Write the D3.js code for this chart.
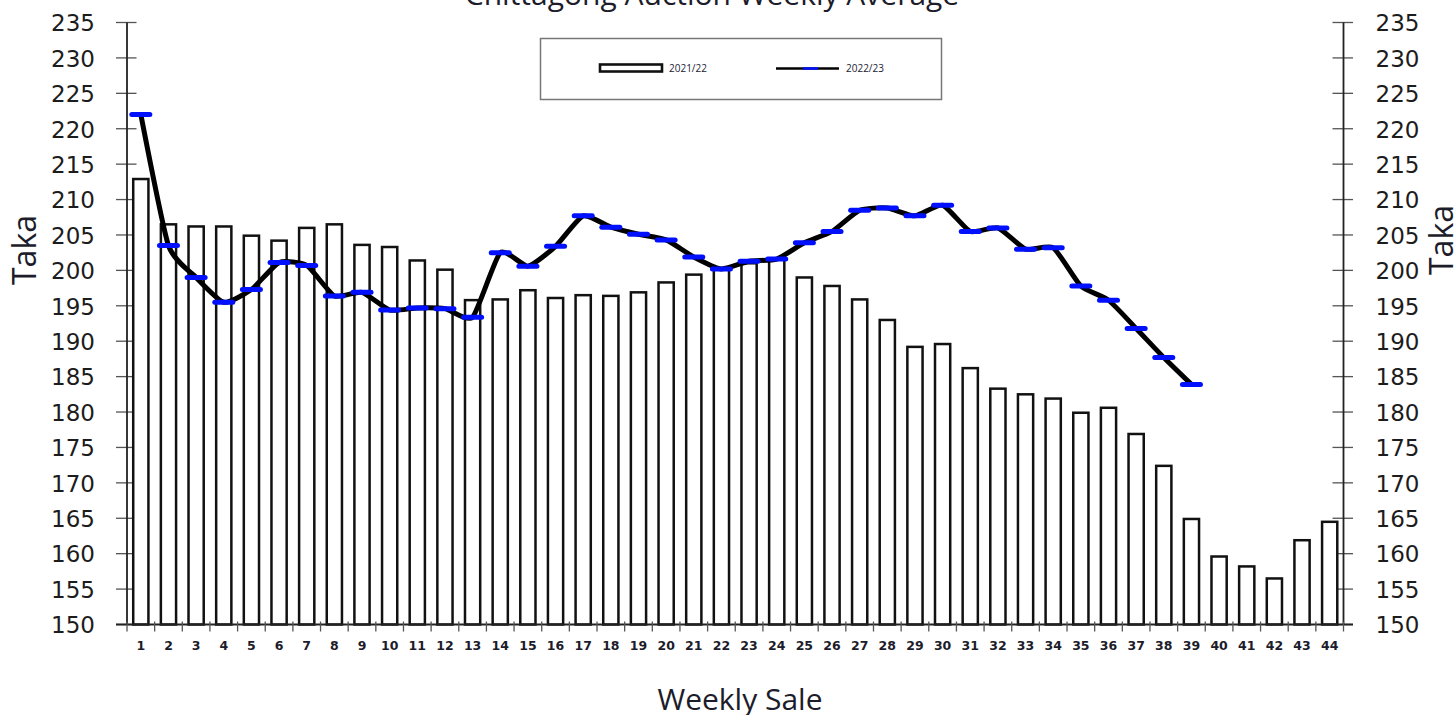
<!DOCTYPE html>
<html>
  <head>
    <meta charset="utf-8">
    <title>Chittagong Auction Weekly Average</title>
    <script src="https://cdn.jsdelivr.net/npm/d3@7"></script>
    <style>
      body { margin: 0; background: #fff; }
      #chart { display: block; }
      .yTick text { font-family: "DejaVu Sans", sans-serif; font-size: 23px; fill: #1c1c1c; }
      .xTick text { font-family: "DejaVu Sans", sans-serif; font-size: 12.5px; font-weight: bold; fill: #1c1c2a; }
      .axisTitle { font-family: "Open Sans", sans-serif; fill: #1c1c2a; }
      .legendText { font-family: "Open Sans", sans-serif; font-size: 10px; fill: #223; }
    </style>
  </head>

  <body>
    <svg id="chart" width="1456" height="715"></svg>

    <script>
      // data
      weeks = d3.range(1, 45).map(String);
      season2122 = [
        212.9, 206.5, 206.2, 206.2, 204.9, 204.2, 206.0, 206.5, 203.6, 203.3,
        201.4, 200.1, 195.8, 195.9, 197.2, 196.1, 196.5, 196.4, 196.9, 198.3,
        199.4, 200.2, 201.0, 201.5, 199.0, 197.8, 195.9, 193.0, 189.2, 189.6,
        186.2, 183.3, 182.5, 181.9, 179.9, 180.6, 176.9, 172.4, 164.9, 159.6,
        158.2, 156.5, 161.9, 164.5
      ];
      season2223 = [
        222.0, 203.5, 199.0, 195.5, 197.3, 201.1, 200.7, 196.4, 196.9, 194.4,
        194.7, 194.6, 193.4, 202.5, 200.6, 203.4, 207.7, 206.1, 205.1, 204.3,
        201.9, 200.2, 201.3, 201.6, 203.9, 205.5, 208.5, 208.8, 207.7, 209.2,
        205.5, 206.0, 203.0, 203.2, 197.8, 195.8, 191.8, 187.7, 183.9
      ];
      yTicks = d3.range(150, 236, 5);
      seriesNames = ["2021/22", "2022/23"];

      // page elements
      svg = d3.select("#chart");
      margin = { top: 22.5, right: 112.5, bottom: 90.5, left: 127 };
      width = 1456 - margin.left - margin.right;
      height = 715 - margin.top - margin.bottom;
      plot = svg.append("g")
        .attr("transform", "translate(" + margin.left + "," + margin.top + ")");

      // scales
      x = d3.scaleBand()
        .domain(weeks)
        .range([0, width])
        .paddingInner(0.45)
        .paddingOuter(0.225);
      y = d3.scaleLinear()
        .domain([150, 235])
        .range([height, 0]);

      // axes
      leftAxis = d3.axisLeft(y).tickValues(yTicks).tickSize(0).tickPadding(32);
      rightAxis = d3.axisRight(y).tickValues(yTicks).tickSize(0).tickPadding(32);
      plot.append("g").attr("class", "yTick").call(leftAxis);
      plot.append("g").attr("class", "yTick")
        .attr("transform", "translate(" + width + ",0)")
        .call(rightAxis);
      plot.selectAll(".yTick .domain").remove();
      plot.selectAll(".yTick text").attr("dy", "0.36em");

      // tick marks crossing both value axes
      [0, width].forEach(function(xPos) {
        plot.append("g")
          .selectAll("line")
          .data(yTicks)
          .join("line")
            .attr("x1", xPos - 11)
            .attr("x2", xPos + 9.5)
            .attr("y1", function(d) { return y(d); })
            .attr("y2", function(d) { return y(d); })
            .attr("stroke", "#555")
            .attr("stroke-width", 1.3);
        plot.append("line")
          .attr("x1", xPos).attr("x2", xPos)
          .attr("y1", 0).attr("y2", height)
          .attr("stroke", "#222")
          .attr("stroke-width", 1.8);
      });

      // bars
      plot.append("g")
        .selectAll("rect")
        .data(season2122)
        .join("rect")
          .attr("x", function(d, i) { return x(weeks[i]); })
          .attr("y", function(d) { return y(d); })
          .attr("width", x.bandwidth())
          .attr("height", function(d) { return height - y(d); })
          .attr("fill", "#fff")
          .attr("stroke", "#111")
          .attr("stroke-width", 2.5);

      // category axis
      xAxis = d3.axisBottom(x).tickSize(0).tickPadding(17);
      xg = plot.append("g").attr("class", "xTick")
        .attr("transform", "translate(0," + height + ")")
        .call(xAxis);
      xg.select(".domain").remove();
      xg.append("line")
        .attr("x1", -11).attr("x2", width + 9.5)
        .attr("stroke", "#222").attr("stroke-width", 1.8);
      xg.selectAll(".boundary")
        .data(d3.range(weeks.length + 1))
        .join("line")
          .attr("class", "boundary")
          .attr("x1", function(i) { return i * x.step(); })
          .attr("x2", function(i) { return i * x.step(); })
          .attr("y1", -3)
          .attr("y2", 7)
          .attr("stroke", "#555")
          .attr("stroke-width", 1.3);

      // line series
      cx = function(i) { return x(weeks[i]) + x.bandwidth() / 2; };
      line = d3.line()
        .x(function(d, i) { return cx(i); })
        .y(function(d) { return y(d); })
        .curve(d3.curveCardinal.tension(0.45));
      plot.append("path")
        .datum(season2223)
        .attr("d", line)
        .attr("fill", "none")
        .attr("stroke", "#000")
        .attr("stroke-width", 5)
        .attr("stroke-linejoin", "round");
      plot.append("g")
        .selectAll("line")
        .data(season2223)
        .join("line")
          .attr("x1", function(d, i) { return cx(i) - 9; })
          .attr("x2", function(d, i) { return cx(i) + 9; })
          .attr("y1", function(d) { return y(d); })
          .attr("y2", function(d) { return y(d); })
          .attr("stroke", "#0010ff")
          .attr("stroke-width", 5)
          .attr("stroke-linecap", "round");

      // titles
      svg.append("text")
        .attr("class", "axisTitle")
        .attr("x", 712).attr("y", 5)
        .attr("text-anchor", "middle")
        .style("font-size", "30px")
        .text("Chittagong Auction Weekly Average");
      svg.append("text")
        .attr("class", "axisTitle")
        .attr("x", 740).attr("y", 710)
        .attr("text-anchor", "middle")
        .style("font-size", "30px")
        .text("Weekly Sale");
      svg.append("text")
        .attr("class", "axisTitle")
        .attr("transform", "translate(36,250) rotate(-90)")
        .attr("text-anchor", "middle")
        .style("font-size", "32px")
        .text("Taka");
      svg.append("text")
        .attr("class", "axisTitle")
        .attr("transform", "translate(1453,240) rotate(-90)")
        .attr("text-anchor", "middle")
        .style("font-size", "32px")
        .text("Taka");

      // legend
      legend = svg.append("g");
      legend.append("rect")
        .attr("x", 540.5).attr("y", 38.5)
        .attr("width", 401).attr("height", 61)
        .attr("fill", "#fff")
        .attr("stroke", "#777")
        .attr("stroke-width", 1.5);
      legend.append("rect")
        .attr("x", 600).attr("y", 64.5)
        .attr("width", 62).attr("height", 7)
        .attr("fill", "#fff")
        .attr("stroke", "#111")
        .attr("stroke-width", 2.6);
      legend.append("line")
        .attr("x1", 776).attr("x2", 839)
        .attr("y1", 68.5).attr("y2", 68.5)
        .attr("stroke", "#000").attr("stroke-width", 2.5);
      legend.append("line")
        .attr("x1", 803).attr("x2", 818)
        .attr("y1", 68.5).attr("y2", 68.5)
        .attr("stroke", "#0010ff").attr("stroke-width", 2.5);
      legend.selectAll(".legendText")
        .data(seriesNames)
        .join("text")
          .attr("class", "legendText")
          .attr("x", function(d, i) { return [669, 846][i]; })
          .attr("y", 72)
          .text(function(d) { return d; });
    </script>
  </body>
</html>
